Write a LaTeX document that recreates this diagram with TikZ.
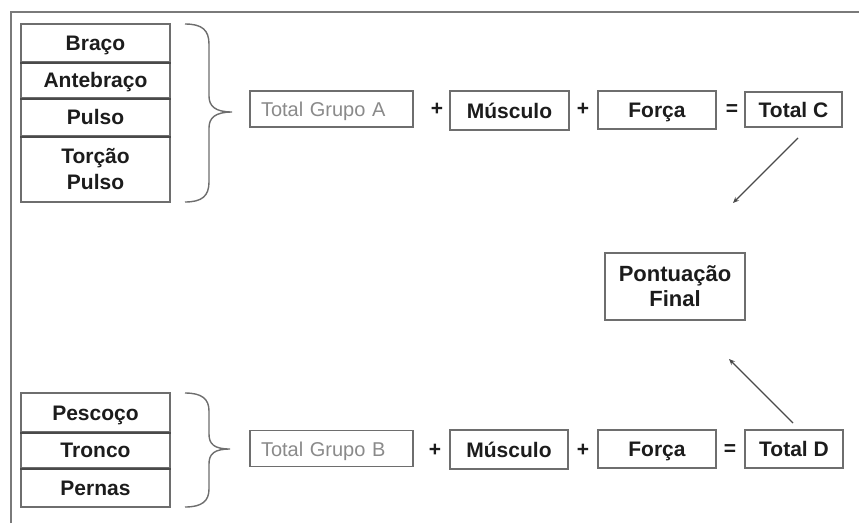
\documentclass[tikz,border=0pt]{standalone}
\usepackage{fontspec}
\setmainfont{Liberation Sans}
\usetikzlibrary{arrows.meta}
\definecolor{boxgray}{HTML}{6E6E6E}
\definecolor{framegray}{HTML}{7A7A7A}
\definecolor{textdark}{HTML}{1C1C1C}
\definecolor{textgray}{HTML}{8A8A8A}
\definecolor{divgray}{HTML}{4A4A4A}
\begin{document}
\begin{tikzpicture}[x=1pt,y=-1pt,
  box/.style={draw=boxgray, line width=1.6pt, inner sep=0pt, align=center,
    font=\bfseries\fontsize{21}{26}\selectfont, text=textdark},
  onebox/.style={box, text height=19pt, text depth=4pt},
  rowbox/.style={onebox, minimum width=149pt},
  totbox/.style={draw=boxgray, line width=1.6pt, inner ysep=0pt, inner xsep=11pt,
    text width=141pt, align=left, minimum height=36pt, text height=19pt, text depth=4pt,
    font=\fontsize{20}{24}\selectfont, text=textgray},
  sign/.style={font=\bfseries\fontsize{21}{24}\selectfont, text=textdark, inner sep=0pt},
  bracepath/.style={draw=boxgray, line width=1.4pt},
  arr/.style={draw=divgray, line width=1.1pt, -{Stealth[length=6pt,width=5pt]}}
]
\useasboundingbox (0,0) rectangle (859,523);
\fill[white] (0,0) rectangle (859,523);
% frame (top and left)
\draw[framegray, line width=2.8pt] (11,523) -- (11,12) -- (859,12);

% group A rows
\node[rowbox, minimum height=38pt] (braco) at (95.5,43) {Braço};
\node[rowbox, minimum height=36pt] (antebraco) at (95.5,80) {Antebraço};
\node[rowbox, minimum height=38pt] (pulso) at (95.5,117) {Pulso};
\node[box, minimum width=149pt, minimum height=66pt] (torcao) at (95.5,169) {Torção\\Pulso};
\draw[divgray, line width=1.6pt] (braco.south west) -- (braco.south east);
\draw[divgray, line width=1.6pt] (antebraco.south west) -- (antebraco.south east);
\draw[divgray, line width=1.6pt] (pulso.south west) -- (pulso.south east);

% brace A
\coordinate (bAt) at (185,24);
\coordinate (bAtip) at (232,112);
\coordinate (bAb) at (185,202);
\draw[bracepath] (bAt) .. controls (202,24) and (209,30) .. (209,44) -- (209,96)
  .. controls (209,106) and (215,112) .. (bAtip)
  .. controls (215,112) and (209,118) .. (209,128) -- (209,182)
  .. controls (209,196) and (202,202) .. (bAb);

% row A
\node[totbox] (totA) at (331.5,109) {Total Grupo A};
\node[sign] (pA1) at (437,109) {+};
\node[onebox, minimum width=119pt, minimum height=39pt] (muscA) at (509.5,110.5) {Músculo};
\node[sign] (pA2) at (583,109) {+};
\node[onebox, minimum width=118pt, minimum height=38pt] (forcaA) at (657,110) {Força};
\node[sign] (eqA) at (732,110) {=};
\node[onebox, minimum width=97pt, minimum height=35pt] (totC) at (793.5,109.5) {Total C};

% final
\node[box, minimum width=140pt, minimum height=67pt, font=\bfseries\fontsize{22}{25}\selectfont] (final) at (675,286.5) {Pontuação\\Final};

% group B rows
\node[rowbox, minimum height=39pt] (pescoco) at (95.5,412.5) {Pescoço};
\node[rowbox, minimum height=36pt] (tronco) at (95.5,450) {Tronco};
\node[rowbox, minimum height=39pt] (pernas) at (95.5,487.5) {Pernas};
\draw[divgray, line width=1.6pt] (pescoco.south west) -- (pescoco.south east);
\draw[divgray, line width=1.6pt] (tronco.south west) -- (tronco.south east);

% brace B
\coordinate (bBt) at (185,393);
\coordinate (bBtip) at (230,449);
\coordinate (bBb) at (185,507);
\draw[bracepath] (bBt) .. controls (202,393) and (209,399) .. (209,411) -- (209,434)
  .. controls (209,444) and (214,449) .. (bBtip)
  .. controls (214,449) and (209,454) .. (209,464) -- (209,489)
  .. controls (209,501) and (202,507) .. (bBb);

% row B
\node[totbox] (totB) at (331.5,448.5) {Total Grupo B};
\node[sign] (pB1) at (435,450) {+};
\node[onebox, minimum width=118pt, minimum height=39pt] (muscB) at (509,449.5) {Músculo};
\node[sign] (pB2) at (583,450) {+};
\node[onebox, minimum width=118pt, minimum height=38pt] (forcaB) at (657,449) {Força};
\node[sign] (eqB) at (730,450) {=};
\node[onebox, minimum width=98pt, minimum height=38pt] (totD) at (794,449) {Total D};

% arrows
\coordinate (cTail) at (798,138);
\coordinate (cHead) at (733,203);
\coordinate (dTail) at (793,423);
\coordinate (dHead) at (729,359);
\draw[arr] (cTail) -- (cHead);
\draw[arr] (dTail) -- (dHead);
\end{tikzpicture}
\end{document}
